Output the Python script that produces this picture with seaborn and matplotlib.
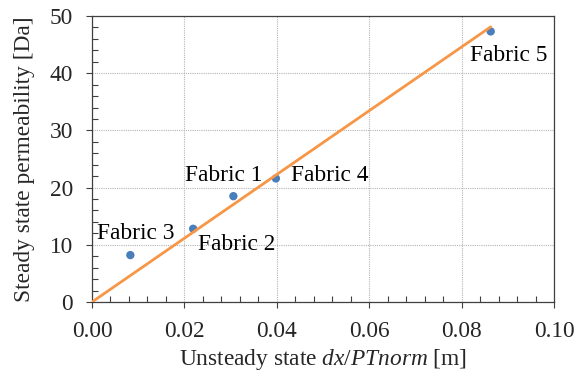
import matplotlib
matplotlib.use("Agg")
import matplotlib.pyplot as plt
import seaborn as sns
import pandas as pd
from matplotlib.ticker import MultipleLocator, FormatStrFormatter

labels = ["Fabric 1", "Fabric 2", "Fabric 3", "Fabric 4", "Fabric 5"]
x_vals = [0.0306, 0.0219, 0.0083, 0.0398, 0.0863]
y_vals = [18.5, 12.8, 8.2, 21.6, 47.3]
fit_x = [0.0, 0.0863]
fit_y = [0.0, 48.1]
label_offsets = {"Fabric 1": (-0.0105, 3.6), "Fabric 2": (0.0010, -2.8),
                 "Fabric 3": (-0.0073, 3.7), "Fabric 4": (0.0033, 0.6),
                 "Fabric 5": (-0.0045, -4.2)}

sns.set_theme(style="white")
plt.rcParams["font.family"] = ["Liberation Serif", "DejaVu Serif"]
plt.rcParams["mathtext.fontset"] = "custom"
plt.rcParams["mathtext.it"] = "Liberation Serif:italic"
plt.rcParams["mathtext.rm"] = "Liberation Serif"
fs = 16.8

df = pd.DataFrame({"x": x_vals, "y": y_vals, "label": labels})
fit = pd.DataFrame({"x": fit_x, "y": fit_y})

fig = plt.figure(figsize=(5.88, 3.78), dpi=100)
ax = fig.add_axes([92/588, 1-302/378, (554-92)/588, (302-16)/378])

ax.grid(True, which="major", color="#b5b5b5", linestyle=(0, (1, 1)), linewidth=0.8)
ax.set_axisbelow(True)

sns.scatterplot(data=df, x="x", y="y", ax=ax, color="#4A7EBB", s=36,
                edgecolor="none", zorder=3)
sns.lineplot(data=fit, x="x", y="y", ax=ax, color="#F79646", linewidth=2,
             zorder=4)

for lab, xv, yv in zip(labels, x_vals, y_vals):
    dx, dy = label_offsets[lab]
    ax.text(xv + dx, yv + dy, lab, fontsize=fs, ha="left", va="center",
            color="black", zorder=5)

ax.set_xlim(0, 0.10)
ax.set_ylim(0, 50)
ax.xaxis.set_major_locator(MultipleLocator(0.02))
ax.xaxis.set_minor_locator(MultipleLocator(0.004))
ax.yaxis.set_major_locator(MultipleLocator(10))
ax.yaxis.set_minor_locator(MultipleLocator(2))
ax.xaxis.set_major_formatter(FormatStrFormatter("%.2f"))
ax.tick_params(axis="both", which="major", direction="out", length=4.5,
               width=0.8, color="#404040", labelsize=fs)
ax.tick_params(axis="y", which="major", pad=9)
ax.tick_params(axis="x", which="major", pad=9.5)
ax.tick_params(axis="both", which="minor", direction="in", length=4,
               width=0.8, color="#404040")
ax.tick_params(axis="y", which="both", left=True)
ax.tick_params(axis="x", which="both", bottom=True)

for sp in ax.spines.values():
    sp.set_color("#404040")
    sp.set_linewidth(0.9)
    sp.set_visible(True)

ax.set_xlabel(r"Unsteady state $\mathit{dx/PTnorm}$ [m]", fontsize=fs, labelpad=3)
ax.set_ylabel("Steady state permeability [Da]", fontsize=fs, labelpad=11)

fig.savefig("out.png", dpi=100)
